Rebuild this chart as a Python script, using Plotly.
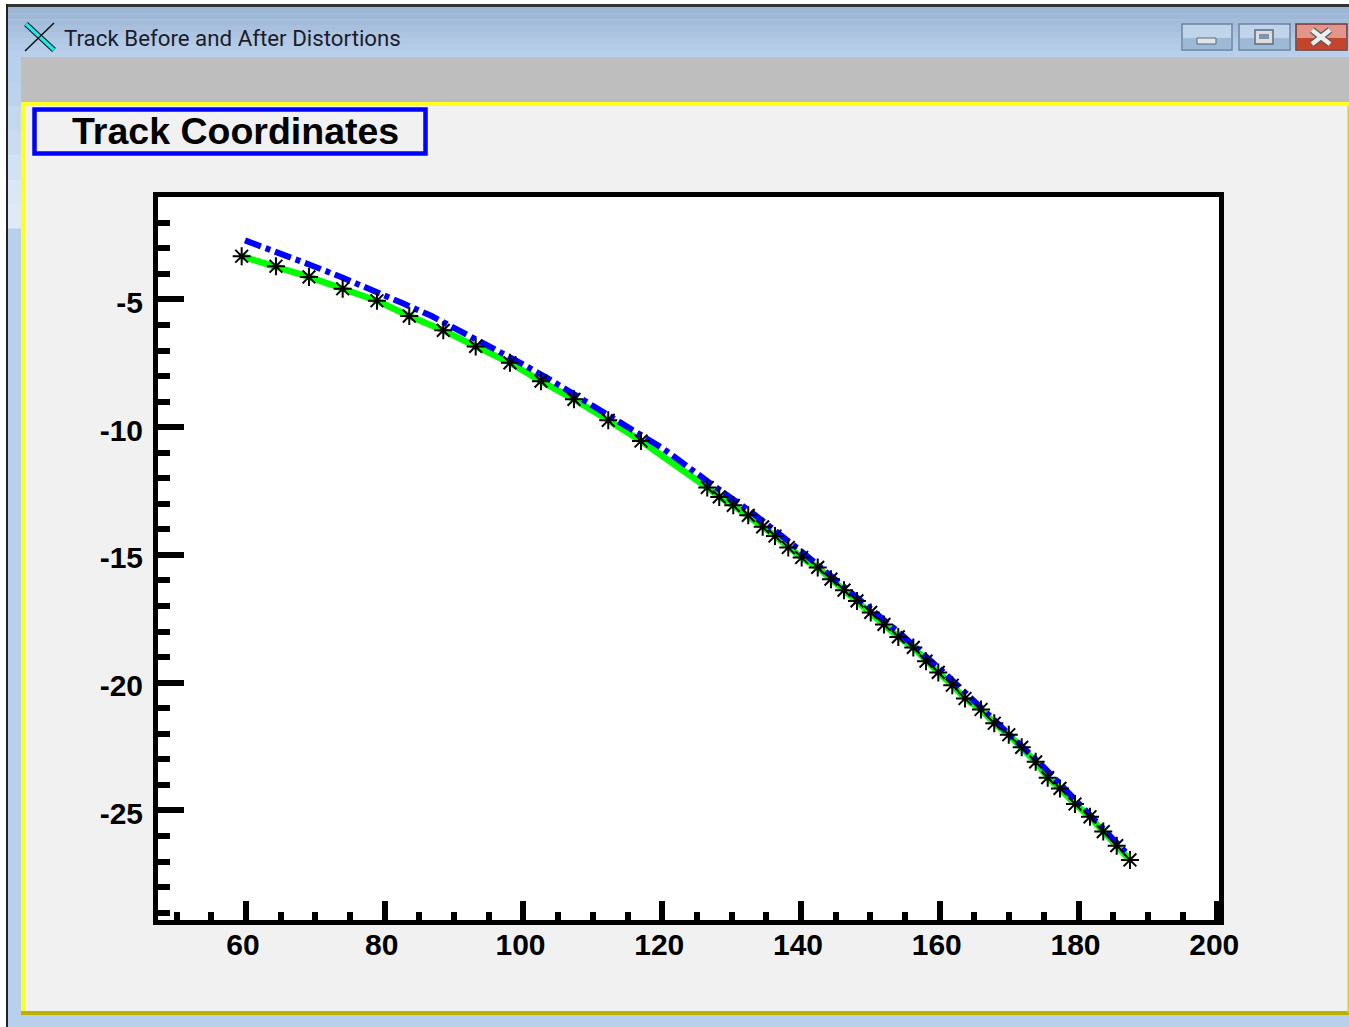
import plotly.graph_objects as go

W, H = 1349, 1027

window_title = "Track Before and After Distortions"
panel_title = "Track Coordinates"

track_x = [59.38, 64.32, 69.08, 73.94, 78.88, 83.54, 88.44, 93.11, 98.05, 102.52, 107.28, 112.22, 116.94,
           126.49, 128.22, 130.24, 132.40, 134.48, 136.25, 138.17, 140.10, 142.41, 144.32, 146.20, 148.07,
           150.05, 151.96, 154.03, 156.19, 158.02, 159.79, 161.81, 163.64, 165.95, 167.86, 169.95, 171.81,
           173.83, 175.56, 177.33, 179.50, 181.66, 183.57, 185.51, 187.42]
track_y = [-3.31, -3.70, -4.12, -4.58, -5.05, -5.65, -6.21, -6.84, -7.48, -8.20, -8.91, -9.73, -10.54,
           -12.36, -12.73, -13.06, -13.45, -13.90, -14.26, -14.71, -15.10, -15.49, -15.95, -16.38, -16.80,
           -17.25, -17.72, -18.21, -18.62, -19.16, -19.60, -20.10, -20.62, -21.05, -21.59, -22.04, -22.53,
           -23.10, -23.72, -24.14, -24.75, -25.25, -25.83, -26.38, -26.94]

distorted_x = [59.86, 64.66, 69.47, 73.79, 78.12, 82.44, 86.77, 91.32, 95.42, 99.74, 103.82, 108.39, 111.99,
               116.32, 120.15, 126.64, 133.12, 139.86, 146.34, 154.27, 161.0, 168.21, 174.93, 181.90, 187.18]
distorted_y = [-2.69, -3.15, -3.67, -4.13, -4.61, -5.13, -5.65, -6.29, -6.87, -7.51, -8.14, -8.88, -9.47,
               -10.19, -10.84, -12.14, -13.38, -14.82, -16.31, -18.07, -19.70, -21.53, -23.29, -25.25, -26.74]

x_major = [60, 80, 100, 120, 140, 160, 180, 200]
x_labels = ["60", "80", "100", "120", "140", "160", "180", "200"]
x_minor = [50, 55, 65, 70, 75, 85, 90, 95, 105, 110, 115, 125, 130, 135, 145, 150, 155, 165, 170, 175, 185, 190, 195]
y_major = [-5, -10, -15, -20, -25]
y_labels = ["-5", "-10", "-15", "-20", "-25"]
y_minor = [-1, -2, -3, -4, -6, -7, -8, -9, -11, -12, -13, -14, -16, -17, -18, -19,
           -21, -22, -23, -24, -26, -27, -28, -29]


def px(x):
    return x / W


def py(y):
    return 1 - y / H


shapes = []


def rect(x0, y0, x1, y1, fill, line=None, lw=0):
    shapes.append(dict(type="rect", xref="paper", yref="paper", layer="below",
                       x0=px(x0), x1=px(x1), y0=py(y0), y1=py(y1), fillcolor=fill,
                       line=dict(color=line or fill, width=lw)))


def seg(x0, y0, x1, y1, color, lw):
    shapes.append(dict(type="line", xref="paper", yref="paper", layer="below",
                       x0=px(x0), x1=px(x1), y0=py(y0), y1=py(y1), line=dict(color=color, width=lw)))


# window chrome
rect(0, 0, W, H, "#ffffff")
rect(6, 4, W, 7, "#333333")
rect(6, 4, 8, H, "#222222")
rect(8, 7, W, H, "#b8d0ea")
bar = ["#9bb5d3", "#9fb8d6", "#a3bcd9", "#a8c0dd", "#adc5e1", "#b1c9e4", "#b4cce7", "#b7cfe9"]
for i, c in enumerate(bar):
    rect(8, 7 + i * 6.25, W, 7 + (i + 1) * 6.25, c)
side = ["#b8d0ea", "#bdd3ec", "#c4d8ee", "#cbdcf0", "#d3e2f3", "#dae7f5", "#dfeaf6"]
for i, c in enumerate(side):
    rect(8, 57 + i * 24.5, 21, 57 + (i + 1) * 24.5, c)
rect(21, 57, W, 103, "#bebebe")
rect(21, 102, W, 1015, "#f1f1f1")
rect(21, 102, W, 106, "#ffff22")
rect(21, 102, 25, 1015, "#ffff22")
rect(21, 1011, W, 1015, "#bfb000")
rect(1347.5, 106, W, 1013, "#d6d030")

# application icon
seg(26, 24, 54, 50, "#111111", 5.5)
seg(26, 24, 54, 50, "#22e8e8", 3.5)
seg(54, 23, 25, 51, "#111111", 1.5)

# caption buttons
rect(1182, 24, 1232, 50, "#c0d5ea", "#6d84a0", 1.5)
rect(1183, 38, 1231, 49, "#9db9d6")
rect(1239, 24, 1290, 50, "#c0d5ea", "#6d84a0", 1.5)
rect(1240, 38, 1289, 49, "#9db9d6")
rect(1296, 24, 1347, 50, "#e3958a", "#6e3a3a", 1.5)
rect(1297, 38, 1346, 49, "#c2452c")
rect(1197, 38, 1216, 44, "#e4e4e4", "#5b6b80", 1)
rect(1255, 30, 1273, 44, "#dcdcdc", "#5b6b80", 1.5)
rect(1259, 34, 1269, 39, "#7f93ad")
seg(1312, 30, 1330, 44, "#5b5b5b", 7)
seg(1330, 30, 1312, 44, "#5b5b5b", 7)
seg(1312, 30, 1330, 44, "#eeeeee", 4.5)
seg(1330, 30, 1312, 44, "#eeeeee", 4.5)

# title box and plot background
rect(34.5, 109.5, 425.5, 153.5, "rgba(0,0,0,0)", "#0000ff", 4.5)
rect(155, 193, 1220, 923, "#ffffff")

LEFT, RIGHT, TOP, BOTTOM = 158, 1218.5, 197, 920
X_RANGE = [47.32, 200.18]
Y_RANGE = [-29.29, -0.99]

fig = go.Figure()
fig.add_trace(go.Scatter(x=track_x, y=track_y, mode="lines", line=dict(color="#00ff00", width=6.5), showlegend=False))
fig.add_trace(go.Scatter(x=distorted_x, y=distorted_y, mode="lines",
                         line=dict(color="#0000ff", width=6, dash="17px,5px,5px,5px"), showlegend=False))
fig.add_trace(go.Scatter(x=track_x, y=track_y, mode="markers",
                         marker=dict(symbol="asterisk-open", size=15, color="#000000",
                                     line=dict(color="#000000", width=2)), showlegend=False))

FONT = "Liberation Sans"
fig.update_layout(
    width=W, height=H, autosize=False,
    margin=dict(l=0, r=0, t=0, b=0, pad=0, autoexpand=False),
    paper_bgcolor="#ffffff", plot_bgcolor="#ffffff",
    shapes=shapes,
    xaxis=dict(domain=[px(LEFT), px(RIGHT)], range=X_RANGE, tickmode="array", tickvals=x_major, ticktext=x_labels,
               ticks="inside", ticklen=19, tickwidth=5.5, tickcolor="#000000",
               minor=dict(tickmode="array", tickvals=x_minor, ticks="inside", ticklen=8, tickwidth=5.5,
                          tickcolor="#000000", showgrid=False),
               showgrid=False, zeroline=False, showline=True, linecolor="#000000", linewidth=5, mirror=True,
               tickfont=dict(family=FONT, size=30, color="#000000", weight="bold"),
               ticklabelstandoff=-6, ticklabelshift=-3),
    yaxis=dict(domain=[py(BOTTOM), py(TOP)], range=Y_RANGE, tickmode="array", tickvals=y_major, ticktext=y_labels,
               ticks="inside", ticklen=26, tickwidth=5.5, tickcolor="#000000",
               minor=dict(tickmode="array", tickvals=y_minor, ticks="inside", ticklen=12, tickwidth=5.5,
                          tickcolor="#000000", showgrid=False),
               showgrid=False, zeroline=False, showline=True, linecolor="#000000", linewidth=5, mirror=True,
               tickfont=dict(family=FONT, size=30, color="#000000", weight="bold"),
               ticklabelstandoff=4, ticklabelshift=3),
    annotations=[
        dict(xref="paper", yref="paper", x=px(61.5), y=py(37.5), xanchor="left", yanchor="middle", showarrow=False,
             text=window_title, font=dict(family="Roboto", size=22.3, color="#1c1c2c")),
        dict(xref="paper", yref="paper", x=px(235.5), y=py(131), xanchor="center", yanchor="middle", showarrow=False,
             text=panel_title, font=dict(family=FONT, size=37.5, color="#000000", weight="bold")),
    ],
)

fig.write_html("out.html", config=dict(displayModeBar=False),
               post_script="document.body.style.margin='0';document.body.style.overflow='hidden';")
